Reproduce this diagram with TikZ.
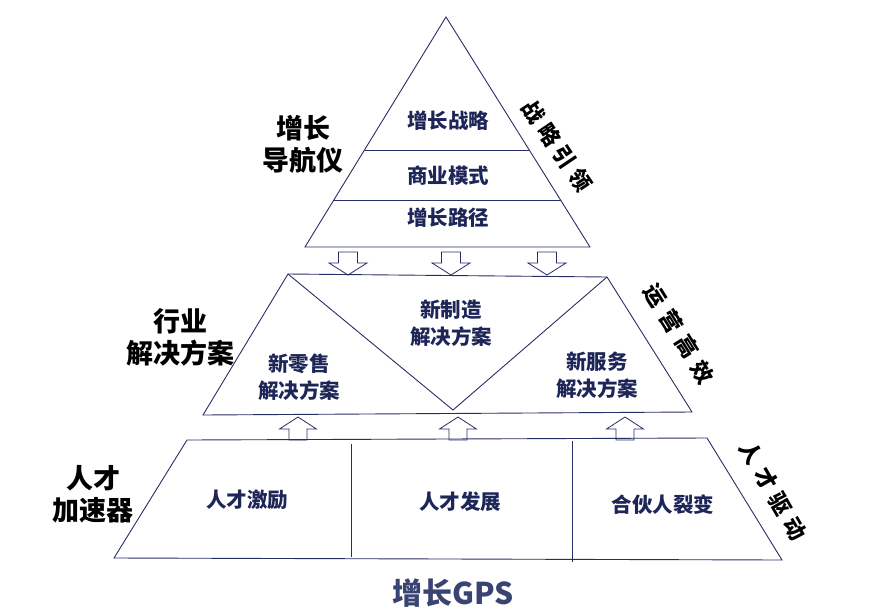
\documentclass[tikz,border=0pt]{standalone}
\usepackage{fontspec}
\newfontfamily\cjk{Noto Sans CJK SC}
\usetikzlibrary{calc}
\definecolor{navy}{RGB}{40,46,100}
\definecolor{txtnavy}{RGB}{30,38,88}
\definecolor{gpsnavy}{RGB}{58,68,115}
\tikzset{
  edge/.style={draw=navy, line width=0.9pt, line join=miter},
  inner/.style={font=\cjk\bfseries\fontsize{20.5}{27}\selectfont, text=txtnavy, align=center, inner sep=0pt},
  side/.style={font=\cjk\bfseries\fontsize{27}{32}\selectfont, text=black, align=center, inner sep=0pt},
  tilt/.style={font=\cjk\bfseries\fontsize{22}{24}\selectfont, text=black, inner sep=0pt},
  blockarr/.style={draw=navy, fill=white, line width=0.8pt, line join=miter},
  gps/.style={font=\cjk\bfseries\fontsize{30}{34}\selectfont, text=gpsnavy, inner sep=0pt},
}
\begin{document}
\begin{tikzpicture}[x=1pt,y=-1pt]
\useasboundingbox (0,0) rectangle (879,614);

% ---- top triangle
\coordinate (A) at (446,17);
\coordinate (TBL) at (305,247);
\coordinate (TBR) at (590,247);
\draw[edge] (A) -- (TBR) -- (TBL) -- cycle;
\draw[edge] ($(A)!0.5783!(TBL)$) -- ($(A)!0.5783!(TBR)$);
\draw[edge] ($(A)!0.7957!(TBL)$) -- ($(A)!0.7957!(TBR)$);

% ---- down arrows
\foreach \cx in {348,451,547}{
  \draw[blockarr] ({\cx-9.5},252) -- ({\cx+9.5},252) -- ({\cx+9.5},263) -- ({\cx+19},263)
     -- (\cx,275) -- ({\cx-19},263) -- ({\cx-9.5},263) -- cycle;
}

% ---- middle trapezoid
\coordinate (MTL) at (288,274);
\coordinate (MTR) at (607,277);
\coordinate (MBR) at (692,412);
\coordinate (MBL) at (203,415);
\coordinate (MV) at (453,410);
\draw[edge] (MTL) -- (MTR) -- (MBR) -- (MBL) -- cycle;
\draw[edge] (MTL) -- (MV) -- (MTR);

% ---- up arrows
\foreach \cx in {298,458,625}{
  \draw[blockarr] ({\cx-9},440) -- ({\cx-9},429) -- ({\cx-18.5},429) -- (\cx,417)
     -- ({\cx+18.5},429) -- ({\cx+9},429) -- ({\cx+9},440) -- cycle;
}

% ---- bottom trapezoid
\coordinate (BTL) at (187,440);
\coordinate (BTR) at (707,438);
\coordinate (BBR) at (782,560);
\coordinate (BBL) at (114,558);
\draw[edge] (BTL) -- (BTR) -- (BBR) -- (BBL) -- cycle;
\coordinate (D1t) at (351,444);
\coordinate (D1b) at (351,557);
\coordinate (D2t) at (572,441);
\coordinate (D2b) at (572,562);
\draw[edge] (D1t) -- (D1b);
\draw[edge] (D2t) -- (D2b);

% ---- inner texts
\node[inner] (t1) at (448,121) {增长战略};
\node[inner] (t2) at (448,176) {商业模式};
\node[inner] (t3) at (448,218) {增长路径};
\node[inner] (m1) at (299,377) {新零售\\解决方案};
\node[inner] (m2) at (451,323) {新制造\\解决方案};
\node[inner] (m3) at (597,375) {新服务\\解决方案};
\node[inner] (b1) at (247,500) {人才激励};
\node[inner] (b2) at (460,502) {人才发展};
\node[inner] (b3) at (663,505) {合伙人裂变};

% ---- side labels
\node[side] (s1) at (303,144) {增长\\导航仪};
\node[side] (s2) at (180,337) {行业\\解决方案};
\node[side] (s3) at (93,494) {人才\\加速器};

% ---- tilted labels
\node[tilt, rotate=-56] (r1) at (557,146) {战\kern5.5pt略\kern5.5pt引\kern5.5pt领};
\node[tilt, rotate=-58] (r2) at (679,334) {运\kern8pt营\kern8pt高\kern8pt效};
\node[tilt, rotate=-60] (r3) at (773,491) {人\kern7pt才\kern7pt驱\kern7pt动};

% ---- title
\node[gps] (g) at (453,593) {增长GPS};
\end{tikzpicture}
\end{document}
